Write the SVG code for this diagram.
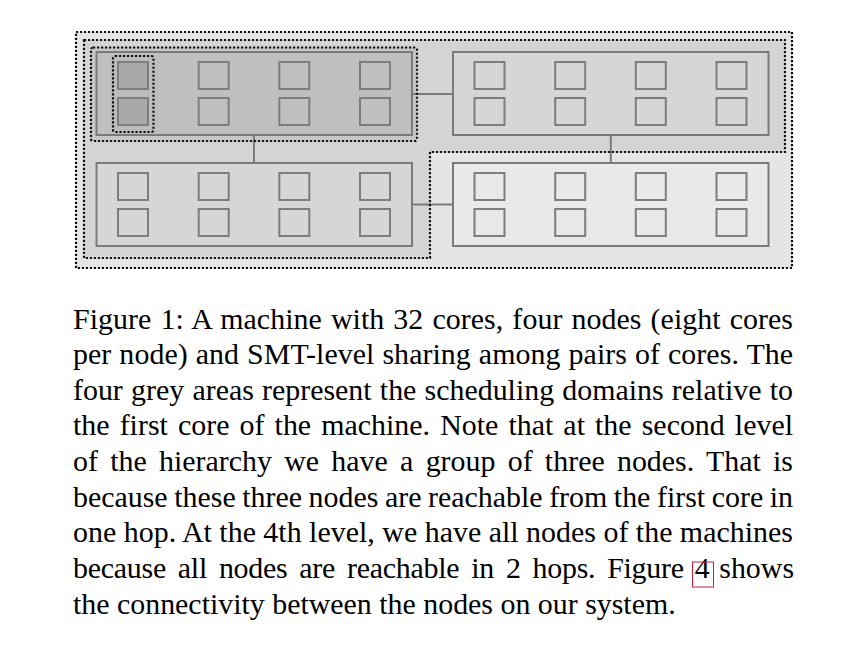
<svg xmlns="http://www.w3.org/2000/svg" width="850" height="658" viewBox="0 0 850 658">
<style>
.dom{stroke:#111;stroke-width:2.2;stroke-dasharray:2.2 1.8;fill:none}
.node{stroke:#7a7a7a;stroke-width:2}
.core{stroke:#7d7d7d;stroke-width:2;fill:none}
.smt{stroke:#7d7d7d;stroke-width:2;fill:#a9a9a9}
.conn{stroke:#7a7a7a;stroke-width:2;fill:none}
.cap{font-family:"Liberation Serif","Times New Roman",serif;font-size:29.9px;fill:#000}
</style>
<defs>
<g id="cores">
<rect class="core" x="21.5" y="10" width="30" height="27"/>
<rect class="core" x="21.5" y="46" width="30" height="27"/>
<rect class="core" x="102.2" y="10" width="30" height="27"/>
<rect class="core" x="102.2" y="46" width="30" height="27"/>
<rect class="core" x="182.8" y="10" width="30" height="27"/>
<rect class="core" x="182.8" y="46" width="30" height="27"/>
<rect class="core" x="263.5" y="10" width="30" height="27"/>
<rect class="core" x="263.5" y="46" width="30" height="27"/>
</g>
</defs>
<rect width="850" height="658" fill="#fff"/>
<g id="domain-fills">
<rect x="76" y="32" width="716" height="236" fill="#e5e5e5"/>
<path d="M84 40H785V152H430V258H84Z" fill="#d4d4d4"/>
<rect x="91" y="47.5" width="326" height="93.5" rx="2" fill="#c7c7c7"/>
</g>
<g id="node1">
<rect class="node" x="96.5" y="52" width="315.5" height="83" fill="#bfbfbf"/>
<rect x="113" y="56" width="40.5" height="76" rx="2" fill="#bcbcbc"/>
<rect class="smt" x="118" y="62" width="30" height="27"/>
<rect class="smt" x="118" y="98" width="30" height="27"/>
<use href="#cores" transform="translate(96.5,52)"/>
</g>
<g id="node2">
<rect class="node" x="453" y="52" width="315.5" height="83" fill="#d6d6d6"/>
<use href="#cores" transform="translate(453,52)"/>
</g>
<g id="node3">
<rect class="node" x="96.5" y="163" width="315.5" height="83" fill="#d6d6d6"/>
<use href="#cores" transform="translate(96.5,163)"/>
</g>
<g id="node4">
<rect class="node" x="453" y="163" width="315.5" height="83" fill="#e9e9e9"/>
<use href="#cores" transform="translate(453,163)"/>
</g>
<g id="connectors">
<line class="conn" x1="412" y1="94" x2="453" y2="94"/>
<line class="conn" x1="412" y1="204.5" x2="453" y2="204.5"/>
<line class="conn" x1="254" y1="135" x2="254" y2="163"/>
<line class="conn" x1="610.8" y1="135" x2="610.8" y2="163"/>
</g>
<g id="domain-borders">
<rect class="dom" x="76" y="32" width="716" height="236"/>
<path class="dom" d="M84 40H785V152H430V258H84Z"/>
<rect class="dom" x="91" y="47.5" width="326" height="93.5" rx="2"/>
<rect class="dom" x="113" y="56" width="40.5" height="76" rx="2"/>
</g>
<g id="caption" class="cap">
<text x="73" y="328.5" textLength="720" lengthAdjust="spacing" word-spacing="1.5">Figure 1: A machine with 32 cores, four nodes (eight cores</text>
<text x="73" y="364.15" textLength="720" lengthAdjust="spacing" word-spacing="0.47">per node) and SMT-level sharing among pairs of cores. The</text>
<text x="73" y="399.8" textLength="720" lengthAdjust="spacing" word-spacing="0.74">four grey areas represent the scheduling domains relative to</text>
<text x="73" y="435.45" textLength="720" lengthAdjust="spacing" word-spacing="2.65">the first core of the machine. Note that at the second level</text>
<text x="73" y="471.1" textLength="720" lengthAdjust="spacing" word-spacing="4.76">of the hierarchy we have a group of three nodes. That is</text>
<text x="73" y="506.75" textLength="720" lengthAdjust="spacing" word-spacing="-0.9">because these three nodes are reachable from the first core in</text>
<text x="73" y="542.4" textLength="720" lengthAdjust="spacing" word-spacing="-0.07">one hop. At the 4th level, we have all nodes of the machines</text>
<text y="578.05"><tspan x="73" textLength="611" lengthAdjust="spacing" word-spacing="4.66">because all nodes are reachable in 2 hops. Figure</tspan><tspan x="694.8">4</tspan><tspan x="719.3">shows</tspan></text>
<text x="73" y="613.7">the connectivity between the nodes on our system.</text>
</g>
<rect id="ref-box" x="692.5" y="562" width="21" height="25" fill="none" stroke="#cc1f3d" stroke-width="1"/>
</svg>
